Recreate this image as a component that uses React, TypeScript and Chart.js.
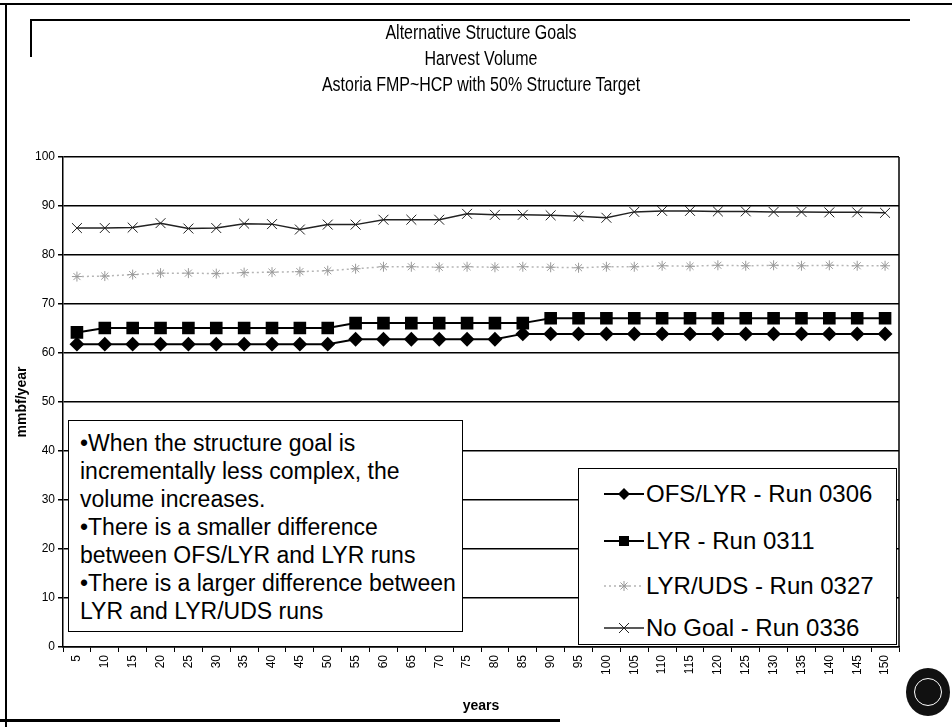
import React, { useEffect, useRef } from "react";
import { Chart, registerables } from "chart.js";

Chart.register(...registerables);

// ---- data ----
const years = [
  "5", "10", "15", "20", "25", "30", "35", "40", "45", "50",
  "55", "60", "65", "70", "75", "80", "85", "90", "95", "100",
  "105", "110", "115", "120", "125", "130", "135", "140", "145", "150",
];

const ofsLyr = [
  61.8, 61.8, 61.8, 61.8, 61.8, 61.8, 61.8, 61.8, 61.8, 61.8,
  62.8, 62.8, 62.8, 62.8, 62.8, 62.8, 63.9, 63.9, 63.9, 63.9,
  63.9, 63.9, 63.9, 63.9, 63.9, 63.9, 63.9, 63.9, 63.9, 63.9,
];

const lyr = [
  64.2, 65.1, 65.1, 65.1, 65.1, 65.1, 65.1, 65.1, 65.1, 65.1,
  66.1, 66.1, 66.1, 66.1, 66.1, 66.1, 66.1, 67.1, 67.1, 67.1,
  67.1, 67.1, 67.1, 67.1, 67.1, 67.1, 67.1, 67.1, 67.1, 67.1,
];

const lyrUds = [
  75.6, 75.7, 76.0, 76.3, 76.3, 76.2, 76.4, 76.5, 76.6, 76.8,
  77.2, 77.6, 77.6, 77.5, 77.6, 77.5, 77.6, 77.5, 77.4, 77.6,
  77.6, 77.8, 77.7, 77.9, 77.8, 77.9, 77.8, 77.9, 77.8, 77.8,
];

const noGoal = [
  85.5, 85.5, 85.6, 86.5, 85.4, 85.5, 86.4, 86.3, 85.2, 86.2,
  86.2, 87.2, 87.2, 87.2, 88.4, 88.2, 88.2, 88.1, 87.9, 87.6,
  88.8, 89.0, 89.0, 88.9, 88.9, 88.8, 88.8, 88.7, 88.7, 88.6,
];

const seriesNames = [
  "OFS/LYR - Run 0306",
  "LYR - Run 0311",
  "LYR/UDS - Run 0327",
  "No Goal - Run 0336",
];

const titleLines = [
  "Alternative Structure Goals",
  "Harvest Volume",
  "Astoria FMP~HCP with 50% Structure Target",
];

const noteLines = [
  "\u2022When the structure goal is",
  "incrementally less complex, the",
  "volume increases.",
  "\u2022There is a smaller difference",
  "between OFS/LYR and LYR runs",
  "\u2022There is a larger difference between",
  "LYR and LYR/UDS runs",
];

const FONT = '"Liberation Sans", Arial, Helvetica, sans-serif';

const plotBorder = {
  id: "plotBorder",
  afterDatasetsDraw(chart: any) {
    const { ctx, chartArea: a } = chart;
    ctx.save();
    ctx.strokeStyle = "#000";
    ctx.lineWidth = 1.5;
    ctx.beginPath();
    ctx.moveTo(a.right, a.top);
    ctx.lineTo(a.right, a.bottom);
    ctx.stroke();
    ctx.restore();
  },
};

function LegendMarker({ kind }: { kind: number }) {
  const w = 40;
  const h = 20;
  const c = h / 2;
  const m = w / 2;
  if (kind === 0) {
    return (
      <svg width={w} height={h}>
        <line x1={0} y1={c} x2={w} y2={c} stroke="#000" strokeWidth={2} />
        <polygon points={`${m},${c - 6} ${m + 6},${c} ${m},${c + 6} ${m - 6},${c}`} fill="#000" />
      </svg>
    );
  }
  if (kind === 1) {
    return (
      <svg width={w} height={h}>
        <line x1={0} y1={c} x2={w} y2={c} stroke="#000" strokeWidth={2} />
        <rect x={m - 5} y={c - 5} width={10} height={10} fill="#000" />
      </svg>
    );
  }
  if (kind === 2) {
    return (
      <svg width={w} height={h}>
        <line x1={0} y1={c} x2={w} y2={c} stroke="#b5b5b5" strokeWidth={1.5} strokeDasharray="2 3" />
        <g stroke="#9a9a9a" strokeWidth={1}>
          <line x1={m - 5} y1={c} x2={m + 5} y2={c} />
          <line x1={m} y1={c - 5} x2={m} y2={c + 5} />
          <line x1={m - 3.5} y1={c - 3.5} x2={m + 3.5} y2={c + 3.5} />
          <line x1={m - 3.5} y1={c + 3.5} x2={m + 3.5} y2={c - 3.5} />
        </g>
      </svg>
    );
  }
  return (
    <svg width={w} height={h}>
      <line x1={0} y1={c} x2={w} y2={c} stroke="#222" strokeWidth={1.5} />
      <g stroke="#222" strokeWidth={1}>
        <line x1={m - 5} y1={c - 5} x2={m + 5} y2={c + 5} />
        <line x1={m - 5} y1={c + 5} x2={m + 5} y2={c - 5} />
      </g>
    </svg>
  );
}

export default function App() {
  const canvasRef = useRef<HTMLCanvasElement | null>(null);

  useEffect(() => {
    if (!canvasRef.current) return;
    const chart = new Chart(canvasRef.current, {
      type: "line",
      data: {
        labels: years,
        datasets: [
          {
            label: seriesNames[0],
            data: ofsLyr,
            borderColor: "#000",
            backgroundColor: "#000",
            borderWidth: 2,
            pointStyle: "rectRot",
            pointRadius: 6,
            pointBackgroundColor: "#000",
            pointBorderColor: "#000",
            tension: 0,
          },
          {
            label: seriesNames[1],
            data: lyr,
            borderColor: "#000",
            backgroundColor: "#000",
            borderWidth: 2,
            pointStyle: "rect",
            pointRadius: 7.5,
            pointBackgroundColor: "#000",
            pointBorderColor: "#000",
            tension: 0,
          },
          {
            label: seriesNames[2],
            data: lyrUds,
            borderColor: "#b5b5b5",
            backgroundColor: "#b5b5b5",
            borderWidth: 1.5,
            borderDash: [2, 3],
            pointStyle: "star",
            pointRadius: 5,
            pointBorderWidth: 1,
            pointBorderColor: "#9a9a9a",
            pointBackgroundColor: "#9a9a9a",
            tension: 0,
          },
          {
            label: seriesNames[3],
            data: noGoal,
            borderColor: "#222",
            backgroundColor: "#222",
            borderWidth: 1.5,
            pointStyle: "crossRot",
            pointRadius: 7,
            pointBorderWidth: 1,
            pointBorderColor: "#222",
            tension: 0,
          },
        ],
      },
      options: {
        animation: false,
        responsive: false,
        maintainAspectRatio: false,
        events: [],
        layout: { padding: { left: 0, top: 157, right: 53, bottom: 0 } },
        plugins: {
          legend: { display: false },
          tooltip: { enabled: false },
          title: { display: false },
        },
        scales: {
          x: {
            offset: true,
            grid: {
              offset: true,
              drawOnChartArea: false,
              color: "#000",
              lineWidth: 1,
              tickLength: 5,
            },
            border: { color: "#000", width: 1.5 },
            ticks: {
              autoSkip: false,
              minRotation: 90,
              maxRotation: 90,
              padding: 3,
              color: "#000",
              font: { family: FONT, size: 12 },
            },
            title: {
              display: true,
              text: "years",
              color: "#000",
              font: { family: FONT, size: 14, weight: "bold" },
              padding: { top: 4, bottom: 12 },
            },
            afterFit: (s: any) => {
              s.height = 80;
            },
          },
          y: {
            min: 0,
            max: 100,
            ticks: {
              stepSize: 10,
              padding: 3,
              color: "#000",
              font: { family: FONT, size: 12 },
            },
            grid: { color: "#000", lineWidth: 1.5, tickLength: 5 },
            border: { color: "#000", width: 1.5 },
            title: {
              display: true,
              text: "mmbf/year",
              color: "#000",
              font: { family: FONT, size: 14, weight: "bold" },
              padding: { top: 14, bottom: 0 },
            },
            afterFit: (s: any) => {
              s.width = 63;
            },
          },
        },
      },
      plugins: [plotBorder],
    });
    return () => chart.destroy();
  }, []);

  const line = (style: React.CSSProperties) => (
    <div style={{ position: "absolute", background: "#000", ...style }} />
  );

  return (
    <div
      style={{
        position: "absolute",
        left: 0,
        top: 0,
        width: 952,
        height: 727,
        background: "#fff",
        overflow: "hidden",
        fontFamily: FONT,
        color: "#000",
      }}
    >
      {/* page frame */}
      {line({ left: 0, top: 3, width: 952, height: 2 })}
      {line({ left: 5, top: 3, width: 2, height: 724 })}
      {line({ left: 0, top: 719, width: 560, height: 3 })}
      {/* inner chart frame */}
      {line({ left: 30, top: 19, width: 880, height: 1.5 })}
      {line({ left: 30, top: 19, width: 1.5, height: 38 })}

      <canvas
        ref={canvasRef}
        width={952}
        height={727}
        style={{ position: "absolute", left: 0, top: 0, display: "block" }}
      />

      {/* title */}
      {titleLines.map((t, i) => (
        <div
          key={t}
          style={{
            position: "absolute",
            left: 0,
            width: 962,
            top: 19 + i * 26,
            height: 26,
            lineHeight: "26px",
            fontSize: 20,
            textAlign: "center",
            whiteSpace: "nowrap",
            transform: "scaleX(0.8)",
            transformOrigin: "481px 50%",
          }}
        >
          {t}
        </div>
      ))}

      {/* note box */}
      <div
        style={{
          position: "absolute",
          left: 68,
          top: 420,
          width: 395,
          height: 212,
          boxSizing: "border-box",
          border: "1.5px solid #000",
          background: "#fff",
          padding: "8px 0 0 11px",
          fontSize: 23,
          lineHeight: "28px",
          whiteSpace: "nowrap",
        }}
      >
        {noteLines.map((t) => (
          <div key={t}>{t}</div>
        ))}
      </div>

      {/* legend */}
      <div
        style={{
          position: "absolute",
          left: 578,
          top: 468,
          width: 319,
          height: 177,
          boxSizing: "border-box",
          border: "1.5px solid #000",
          background: "#fff",
        }}
      >
        {seriesNames.map((n, i) => (
          <div
            key={n}
            style={{
              position: "absolute",
              left: 25,
              top: [25, 72, 117, 159][i] - 15,
              height: 30,
              display: "flex",
              alignItems: "center",
              whiteSpace: "nowrap",
              fontSize: 24,
            }}
          >
            <LegendMarker kind={i} />
            <span style={{ marginLeft: 2 }}>{n}</span>
          </div>
        ))}
      </div>

      {/* seal */}
      <div
        style={{
          position: "absolute",
          left: 906,
          top: 668,
          width: 44,
          height: 48,
          borderRadius: "50%",
          background: "#111",
          boxSizing: "border-box",
        }}
      >
        <div
          style={{
            position: "absolute",
            left: 8,
            top: 10,
            width: 28,
            height: 28,
            borderRadius: "50%",
            border: "1.5px solid #fff",
            boxSizing: "border-box",
          }}
        />
      </div>
    </div>
  );
}
